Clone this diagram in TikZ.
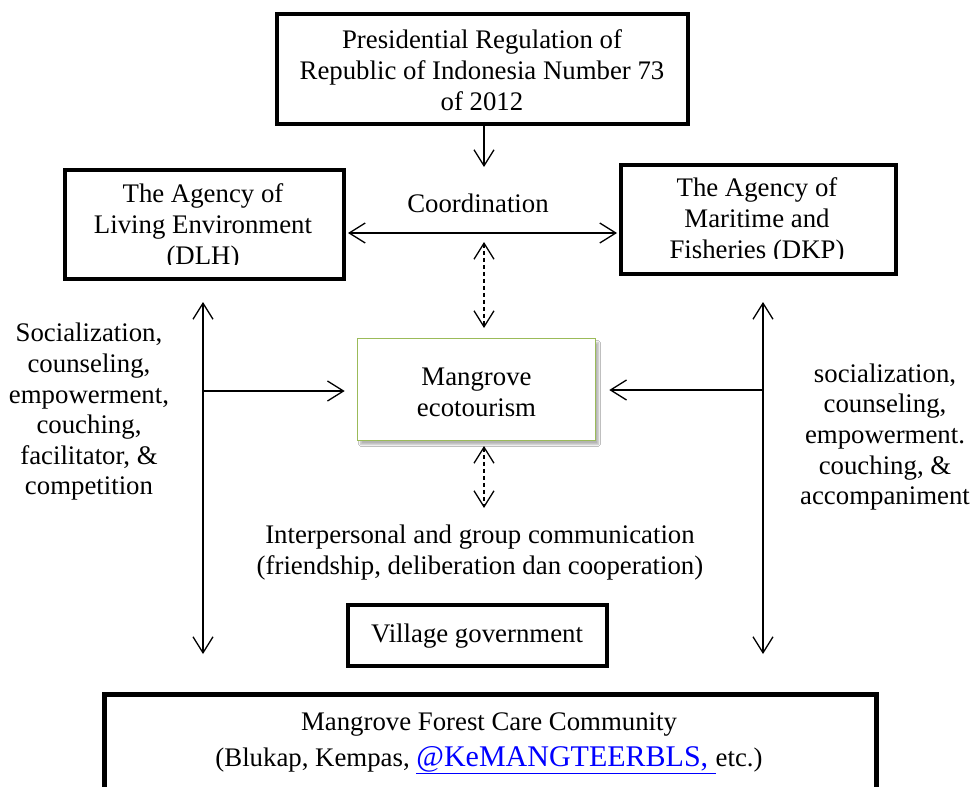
\documentclass[tikz,border=0pt]{standalone}
\usepackage{fontspec}
\setmainfont{Liberation Serif}
\usetikzlibrary{arrows.meta,shadows.blur}
\definecolor{ecogreen}{HTML}{9BBB59}
\definecolor{linkblue}{HTML}{0000FF}
\begin{document}
\begin{tikzpicture}[x=1pt,y=-1pt,
  >={Straight Barb[length=16pt,width=20pt]},
  txt/.style={font=\fontsize{26.8}{31}\selectfont, align=center, inner sep=0pt},
  sidetxt/.style={font=\fontsize{26.8}{30.6}\selectfont, align=center, inner sep=0pt},
  thickbox/.style={draw, line width=4pt, inner sep=0pt},
  conn/.style={line width=1.3pt},
  dconn/.style={line width=1.3pt, dash pattern=on 4pt off 3pt},
]
\clip (0,0) rectangle (972,787);
\fill[white] (0,0) rectangle (972,787);

% boxes
\node[thickbox, minimum width=411pt, minimum height=110pt] (pres) at (482.5,69) {};
\node[txt] (prestxt) at (482,70) {Presidential Regulation of\\Republic of Indonesia Number 73\\of 2012};

\node[thickbox, minimum width=279pt, minimum height=109pt] (dlh) at (204.5,224.5) {};
\begin{scope}
  \clip (65,170) rectangle (344,264.5);
  \node[txt] (dlhtxt) at (203,227) {The Agency of\\Living Environment\\(DLH)};
\end{scope}

\node[thickbox, minimum width=275pt, minimum height=109pt] (dkp) at (758.5,219.5) {};
\begin{scope}
  \clip (621,165) rectangle (896,258.5);
  \node[txt] (dkptxt) at (757,221) {The Agency of\\Maritime and\\Fisheries (DKP)};
\end{scope}

\node[draw=ecogreen, line width=1.6pt, fill=white, minimum width=238pt, minimum height=102pt,
  blur shadow={shadow xshift=3pt, shadow yshift=-4pt, shadow blur steps=6, shadow opacity=30}] (eco) at (476.5,389.5) {};
\node[txt] (ecotxt) at (476.5,392.5) {Mangrove\\ecotourism};

\node[draw, line width=4.5pt, minimum width=259pt, minimum height=61pt] (vil) at (477.5,635.5) {};
\node[txt] (viltxt) at (477,636) {Village government};

\node[draw, line width=4.5pt, minimum width=772pt, minimum height=140pt] (mfcc) at (490.5,764.5) {};
\node[font=\fontsize{26.8}{36}\selectfont, align=center, inner sep=0pt] (mfcctxt) at (489,742) {Mangrove Forest Care Community\\(Blukap, Kempas, \smash{\fontsize{30}{31}\selectfont\color{linkblue}\underline{@KeMANGTEERBLS,\ }}etc.)};

% labels
\node[txt] (coord) at (478,203) {Coordination};
\node[txt] (inter) at (480,553) {Interpersonal and group communication\\(friendship, deliberation dan cooperation)};
\node[sidetxt] (ltxt) at (89,412) {Socialization,\\counseling,\\empowerment,\\couching,\\facilitator, \&\\competition};
\node[sidetxt] (rtxt) at (885,437) {socialization,\\counseling,\\empowerment.\\couching, \&\\accompaniment};

% connector coordinates
\coordinate (topEnd) at (484,167);
\coordinate (cy) at (484,233);
\coordinate (d1a) at (484,242);
\coordinate (d1b) at (484,328);
\coordinate (d2a) at (484,446);
\coordinate (d2b) at (484,508);
\coordinate (lTop) at (203,302);
\coordinate (lBot) at (203,654);
\coordinate (lMid) at (203,391);
\coordinate (rTop) at (763,302);
\coordinate (rBot) at (763,654);
\coordinate (rMid) at (763,390);

% connectors
\draw[conn,->] (pres.south -| topEnd) -- (topEnd);
\draw[conn,<->,shorten <=2pt,shorten >=2pt] (dlh.east |- cy) -- (dkp.west |- cy);
\draw[dconn,<->] (d1a) -- (d1b);
\draw[dconn,<->] (d2a) -- (d2b);
\draw[conn,<->] (lTop) -- (lBot);
\draw[conn,->,shorten >=12pt] (lMid) -- (lMid -| eco.west);
\draw[conn,<->] (rTop) -- (rBot);
\draw[conn,->,shorten >=13pt] (rMid) -- (rMid -| eco.east);
\end{tikzpicture}
\end{document}
